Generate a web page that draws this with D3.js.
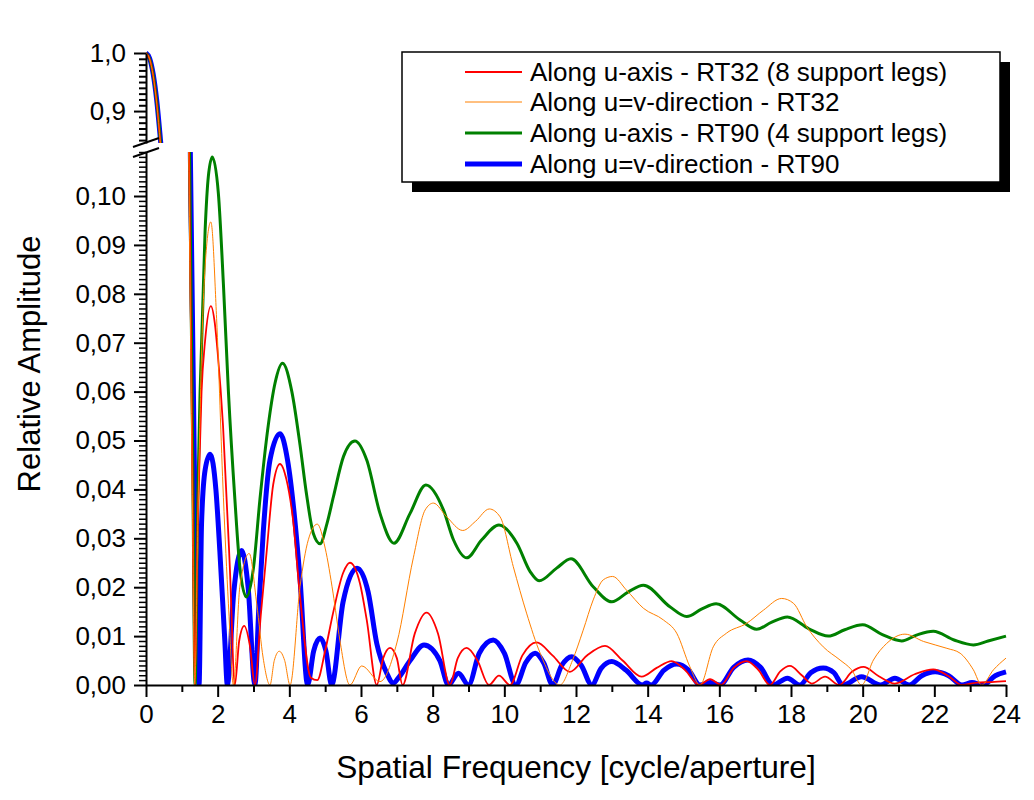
<!DOCTYPE html>
<html><head><meta charset="utf-8">
<script src="https://cdn.jsdelivr.net/npm/d3@7"></script>
<style>
body{margin:0;background:#fff}
svg{display:block}
text{font-family:"Liberation Sans",Arial,sans-serif;fill:#000}
</style>
</head><body>
<svg id="chart" width="1034" height="800"></svg>
<script>
// ---------------- data ----------------
const xTicks = [0,2,4,6,8,10,12,14,16,18,20,22,24];
const yLowerTicks = [0,0.01,0.02,0.03,0.04,0.05,0.06,0.07,0.08,0.09,0.10];
const yUpperTicks = [0.9,1.0];
const seriesNames = [
  "Along u-axis - RT32 (8 support legs)",
  "Along u=v-direction - RT32",
  "Along u-axis - RT90 (4 support legs)",
  "Along u=v-direction - RT90"
];
const seriesColors = ["#ff0000","#ff8000","#008000","#0000ff"];
const seriesWidths = [1.8,1,3,5];

// RT32, along u-axis (red)
const rt32U = [[0,1.0],[0.1,0.99],[0.2,0.962],[0.3,0.914],[0.4,0.847],[0.5,0.77],[0.6,0.68],[0.8,0.48],[1.0,0.28],[1.2,0.11],[1.3,0.04],[1.36,0],
 [1.45,0.035],[1.55,0.06],[1.65,0.0705],[1.81,0.0775],[1.92,0.074],[2.0,0.068],[2.15,0.053],[2.34,0.024],[2.48,0],
 [2.6,0.009],[2.74,0.0121],[2.9,0.008],[3.04,0],[3.2,0.014],[3.37,0.0275],[3.55,0.041],[3.74,0.0452],[3.92,0.042],[4.1,0.034],[4.3,0.018],[4.6,0.0015],[4.78,0.001],
 [5.0,0.007],[5.22,0.0147],[5.5,0.0229],[5.69,0.025],[5.97,0.0208],[6.16,0.0133],[6.44,0],[6.62,0.0055],[6.81,0.0076],[7.0,0.0055],[7.16,0],
 [7.5,0.0105],[7.83,0.0148],[8.15,0.0105],[8.48,0],[8.7,0.0055],[8.95,0.0076],[9.25,0.005],[9.57,0],[9.85,0.0019],[10.16,0],
 [10.5,0.006],[10.9,0.0087],[11.35,0.006],[11.83,0.0027],[12.3,0.006],[12.81,0.008],[13.3,0.005],[13.83,0.0017],[14.25,0.0035],[14.67,0.0049],[15.05,0.003],[15.44,0],
 [15.74,0.0012],[16.05,0],[16.4,0.0035],[16.76,0.0049],[17.1,0.003],[17.41,0],[17.7,0.0028],[17.97,0.0039],[18.3,0.002],[18.58,0.0003],[18.95,0.0017],[19.35,0],
 [19.7,0.0027],[20.02,0.0037],[20.45,0.0018],[20.9,0.0003],[21.45,0.0022],[21.97,0.0032],[22.4,0.0018],[22.77,0],[23.2,0.0005],[23.6,0.0006],[24,0.0008]];

// RT32, along u=v direction (orange)
const rt32UV = [[0,1.0],[0.1,0.99],[0.2,0.961],[0.3,0.912],[0.4,0.845],[0.5,0.765],[0.6,0.675],[0.8,0.47],[1.0,0.27],[1.2,0.105],[1.3,0.035],[1.36,0],
 [1.45,0.035],[1.55,0.0677],[1.69,0.0896],[1.81,0.0947],[1.97,0.075],[2.16,0.0384],[2.3,0.0166],[2.44,0],
 [2.62,0.0202],[2.88,0.0269],[3.09,0.0166],[3.27,0.0055],[3.46,0],[3.58,0.005],[3.72,0.0069],[3.87,0.005],[4.02,0],
 [4.3,0.0202],[4.53,0.0297],[4.78,0.0329],[5.0,0.028],[5.22,0.0188],[5.41,0.0092],[5.69,0],[6.02,0.0039],[6.53,0.0007],
 [7.0,0.0086],[7.46,0.026],[7.79,0.0358],[8.02,0.0372],[8.39,0.0344],[8.84,0.0316],[9.2,0.0335],[9.58,0.036],[9.88,0.0344],[10.25,0.0242],[10.62,0.0147],[11.0,0.0065],[11.55,0],
 [11.9,0.005],[12.2,0.0112],[12.48,0.0174],[12.76,0.0215],[13.02,0.0222],[13.41,0.0194],[13.88,0.0157],[14.44,0.0133],[14.81,0.0106],[15.18,0.0037],[15.46,0],
 [15.83,0.0078],[16.2,0.0106],[16.76,0.0126],[17.23,0.0153],[17.74,0.0177],[18.07,0.0167],[18.44,0.0119],[18.9,0.0078],[19.37,0.0051],[19.69,0.0031],[19.97,0],
 [20.3,0.0051],[20.67,0.0085],[21.18,0.0104],[21.7,0.0089],[22.35,0.0075],[22.72,0.0065],[23.09,0.0031],[23.32,0],[23.65,0.0031],[24,0.0055]];

// RT90, along u-axis (green)
const rt90U = [[0,1.0],[0.1,0.99],[0.2,0.963],[0.3,0.916],[0.4,0.85],[0.5,0.775],[0.6,0.685],[0.8,0.49],[1.0,0.29],[1.2,0.12],[1.3,0.05],[1.37,0],
 [1.45,0.04],[1.51,0.06],[1.65,0.093],[1.74,0.104],[1.85,0.108],[2.02,0.1005],[2.16,0.082],[2.3,0.06],[2.48,0.038],[2.62,0.024],[2.8,0.018],
 [3.0,0.024],[3.18,0.038],[3.41,0.053],[3.6,0.0617],[3.81,0.0658],[4.07,0.06],[4.3,0.049],[4.48,0.039],[4.67,0.031],[4.86,0.0289],
 [5.05,0.033],[5.23,0.0385],[5.51,0.0467],[5.83,0.0499],[6.16,0.046],[6.53,0.0351],[6.92,0.029],[7.37,0.0351],[7.81,0.0409],[8.3,0.0358],[8.58,0.0297],[8.95,0.026],
 [9.37,0.0297],[9.85,0.0327],[10.35,0.029],[10.72,0.0232],[10.97,0.0213],[11.46,0.0239],[11.86,0.0258],[12.48,0.0201],[13.0,0.017],[13.45,0.019],[13.88,0.0204],
 [14.62,0.016],[15.09,0.014],[15.5,0.0155],[15.91,0.0166],[16.58,0.0133],[17.04,0.0114],[17.45,0.0128],[17.9,0.0139],[18.5,0.0115],[19.04,0.010],
 [19.5,0.0113],[20.0,0.0123],[20.55,0.0103],[21.09,0.009],[21.5,0.0102],[21.97,0.011],[22.55,0.0092],[23.09,0.0082],[23.5,0.009],[24,0.010]];

// RT90, along u=v direction (blue)
const rt90UV = [[0,1.0],[0.1,0.991],[0.2,0.964],[0.3,0.918],[0.4,0.853],[0.5,0.78],[0.6,0.69],[0.8,0.5],[1.0,0.3],[1.2,0.13],[1.35,0.045],[1.48,0],
 [1.55,0.033],[1.65,0.044],[1.79,0.0472],[1.95,0.04],[2.06,0.0275],[2.2,0.009],[2.27,0],[2.45,0.019],[2.67,0.0275],[2.85,0.02],[3.04,0],
 [3.15,0.016],[3.27,0.031],[3.46,0.046],[3.74,0.0514],[3.95,0.046],[4.15,0.034],[4.3,0.0215],[4.51,0],[4.68,0.007],[4.86,0.0096],[5.02,0.007],[5.18,0],
 [5.5,0.017],[5.89,0.0239],[6.2,0.019],[6.44,0.0085],[6.72,0.0024],[6.9,0.0004],[7.05,0.0015],[7.37,0.005],[7.76,0.0082],[8.2,0.005],[8.44,0],
 [8.72,0.0024],[9.0,0],[9.3,0.0065],[9.69,0.0092],[10.0,0.0065],[10.32,0],[10.6,0.0046],[10.86,0.0065],[11.1,0.0045],[11.35,0],
 [11.6,0.004],[11.88,0.0058],[12.15,0.004],[12.44,0],[12.7,0.0034],[13.0,0.0048],[13.4,0.003],[13.85,0],[13.97,0.0004],[14.1,0],
 [14.45,0.003],[14.81,0.0043],[15.15,0.003],[15.46,0],[15.75,0.0005],[16.02,0],[16.4,0.0036],[16.8,0.0051],[17.15,0.0036],[17.5,0],[17.9,0.0014],[18.25,0],
 [18.55,0.0025],[18.9,0.0035],[19.2,0.0025],[19.45,0],[19.97,0.0017],[20.5,0],[20.9,0.0014],[21.3,0],[21.65,0.0019],[22.02,0.0027],[22.4,0.0019],[22.77,0],
 [23.05,0.0005],[23.36,0],[23.7,0.0019],[24,0.0027]];

const allSeries = [rt32U, rt32UV, rt90U, rt90UV];

// ---------------- chart ----------------
const svg = d3.select("#chart");
const x = d3.scaleLinear().domain([0,24]).range([146,1006]);
const yLo = d3.scaleLinear().domain([0,0.109]).range([685,152]);
const yUp = d3.scaleLinear().domain([0.845,1.0]).range([143,53]);

const defs = svg.append("defs");
defs.append("clipPath").attr("id","clipUp").append("rect")
  .attr("x",146).attr("y",46).attr("width",870).attr("height",143-46);
defs.append("clipPath").attr("id","clipLo").append("rect")
  .attr("x",146).attr("y",152).attr("width",870).attr("height",686-152);

const comma = s => s.replace(".", ",");

// draw order: blue, green, red, orange
const order = [3,2,0,1];
function drawPanel(yScale, clipId){
  const g = svg.append("g").attr("clip-path",`url(#${clipId})`);
  const line = d3.line().x(d=>x(d[0])).y(d=>yScale(d[1])).curve(d3.curveMonotoneX);
  order.forEach(i=>{
    g.append("path").datum(allSeries[i])
      .attr("d",line).attr("fill","none")
      .attr("stroke",seriesColors[i]).attr("stroke-width",seriesWidths[i])
      .attr("stroke-linejoin","round");
  });
}
drawPanel(yUp,"clipUp");
drawPanel(yLo,"clipLo");

function styleAxis(g){
  g.selectAll(".domain").attr("stroke","#000").attr("stroke-width",2);
  g.selectAll(".tick line").attr("stroke","#000").attr("stroke-width",2);
  g.selectAll("text").attr("font-size",26).attr("font-family",'"Liberation Sans",Arial,sans-serif').attr("fill","#000");
}

// x axis
const gx = svg.append("g").attr("transform","translate(0,685)")
  .call(d3.axisBottom(x).tickValues(xTicks).tickSize(12).tickSizeOuter(0).tickPadding(8).tickFormat(d=>String(d)));
styleAxis(gx);
const gxm = svg.append("g").attr("transform","translate(0,685)")
  .call(d3.axisBottom(x).tickValues(d3.range(1,24,2)).tickSize(7).tickSizeOuter(0).tickFormat(""));
styleAxis(gxm); gxm.select(".domain").remove();

// lower y axis
const gyl = svg.append("g").attr("transform","translate(146,0)")
  .call(d3.axisLeft(yLo).tickValues(yLowerTicks).tickSize(12).tickSizeOuter(0).tickPadding(8)
    .tickFormat(d=>comma(d3.format(".2f")(d))));
styleAxis(gyl);
const minorLo = d3.range(1,110).filter(i=>i%10!==0).map(i=>i/1000);
const gylm = svg.append("g").attr("transform","translate(146,0)")
  .call(d3.axisLeft(yLo).tickValues(minorLo).tickSize(7).tickSizeOuter(0).tickFormat(""));
styleAxis(gylm); gylm.select(".domain").remove();
gylm.selectAll(".tick line").attr("stroke-width",1.5);

// upper y axis
const gyu = svg.append("g").attr("transform","translate(146,0)")
  .call(d3.axisLeft(yUp).tickValues(yUpperTicks).tickSize(12).tickSizeOuter(0).tickPadding(8)
    .tickFormat(d=>comma(d3.format(".1f")(d))));
styleAxis(gyu);
const minorUp = d3.range(85,100).filter(i=>i!==90).map(i=>i/100);
const gyum = svg.append("g").attr("transform","translate(146,0)")
  .call(d3.axisLeft(yUp).tickValues(minorUp).tickSize(7).tickSizeOuter(0).tickFormat(""));
styleAxis(gyum); gyum.select(".domain").remove();

// axis break marks
const brk = svg.append("g").attr("stroke","#000").attr("stroke-width",2);
brk.append("line").attr("x1",133).attr("y1",147).attr("x2",159).attr("y2",138);
brk.append("line").attr("x1",133).attr("y1",157).attr("x2",159).attr("y2",148);

// axis titles
svg.append("text").attr("transform","translate(40,364) rotate(-90)")
  .attr("text-anchor","middle").attr("font-size",31).text("Relative Amplitude");
svg.append("text").attr("x",576).attr("y",778)
  .attr("text-anchor","middle").attr("font-size",31.6).text("Spatial Frequency [cycle/aperture]");

// legend
const lg = svg.append("g");
lg.append("rect").attr("x",412).attr("y",62).attr("width",598).attr("height",130).attr("fill","#000");
lg.append("rect").attr("x",402).attr("y",52).attr("width",598).attr("height",130)
  .attr("fill","#fff").attr("stroke","#000").attr("stroke-width",1.5);
const rowsY = [72,102,133,164];
seriesNames.forEach((name,i)=>{
  lg.append("line").attr("x1",465).attr("x2",522).attr("y1",rowsY[i]).attr("y2",rowsY[i])
    .attr("stroke",seriesColors[i]).attr("stroke-width",seriesWidths[i]);
  lg.append("text").attr("x",530).attr("y",rowsY[i]+9).attr("font-size",26).text(name);
});
</script>
</body></html>
